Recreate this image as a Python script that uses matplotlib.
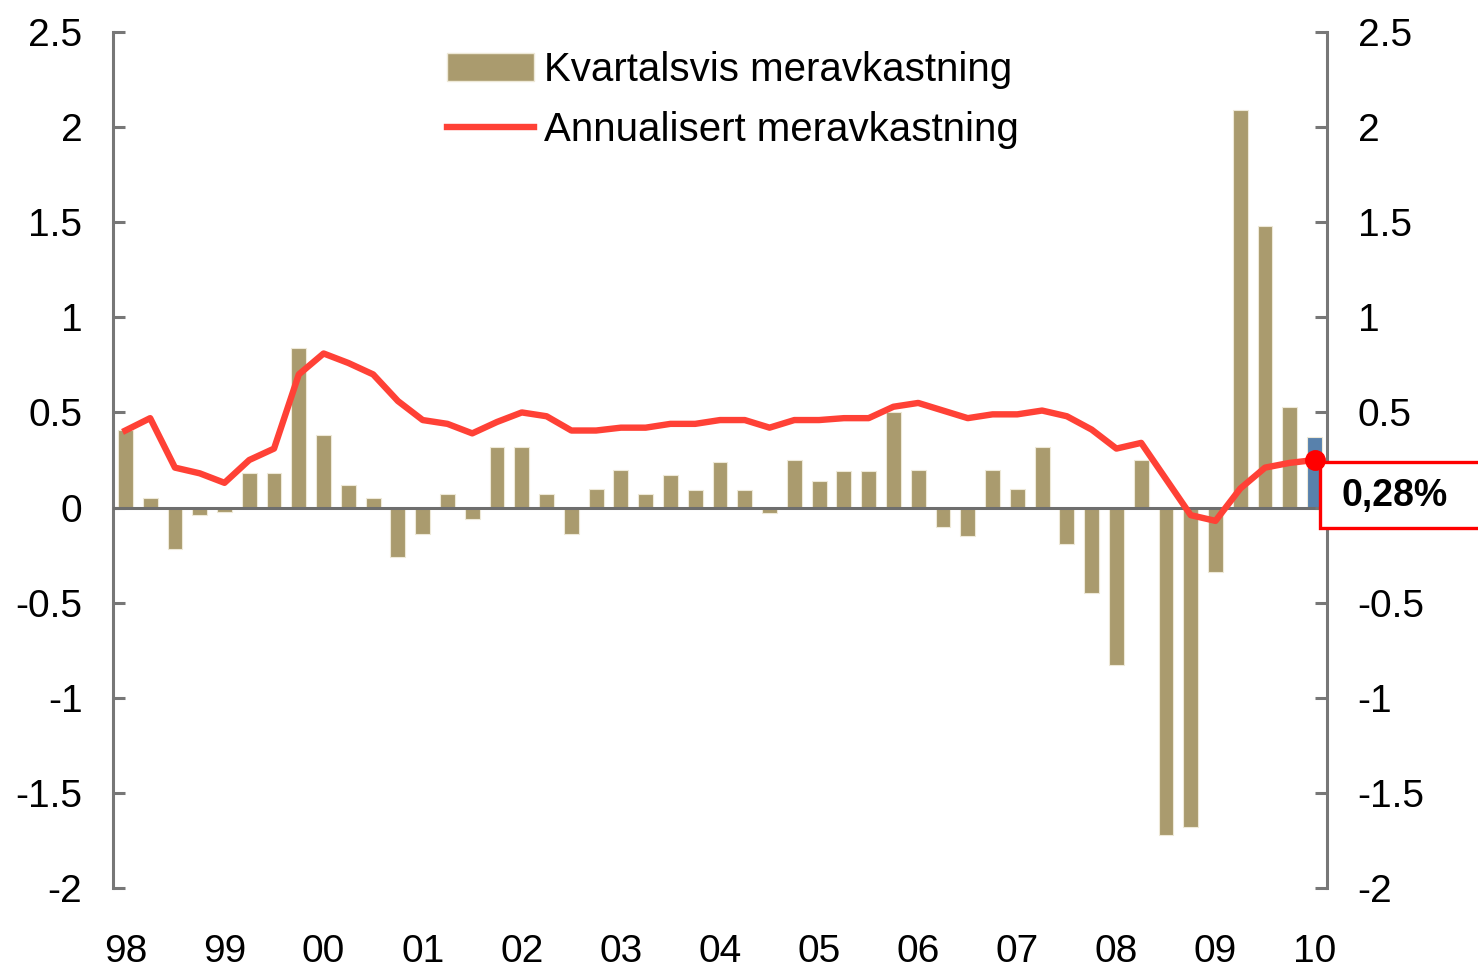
import numpy as np
import matplotlib
matplotlib.use("Agg")
import matplotlib.pyplot as plt
from matplotlib.patches import Patch, Rectangle
from matplotlib.lines import Line2D

plt.rcParams['font.family'] = ['Liberation Sans', 'DejaVu Sans']

# quarterly excess return, 98 Q1 .. 10 Q1
quarterly = [0.41, 0.05, -0.22, -0.04, -0.025, 0.18, 0.18, 0.84, 0.38, 0.12,
             0.05, -0.26, -0.14, 0.07, -0.06, 0.32, 0.32, 0.07, -0.14, 0.10,
             0.20, 0.07, 0.17, 0.09, 0.24, 0.09, -0.03, 0.25, 0.14, 0.19,
             0.19, 0.50, 0.20, -0.10, -0.15, 0.20, 0.10, 0.32, -0.19, -0.45,
             -0.83, 0.25, -1.72, -1.68, -0.34, 2.09, 1.48, 0.53, 0.37]
# annualised excess return
annual = [0.405, 0.47, 0.21, 0.18, 0.13, 0.25, 0.31, 0.70, 0.81, 0.76,
          0.70, 0.56, 0.46, 0.44, 0.39, 0.45, 0.50, 0.48, 0.405, 0.405,
          0.42, 0.42, 0.44, 0.44, 0.46, 0.46, 0.42, 0.46, 0.46, 0.47,
          0.47, 0.53, 0.55, 0.51, 0.47, 0.49, 0.49, 0.51, 0.48, 0.41,
          0.31, 0.34, 0.15, -0.04, -0.07, 0.10, 0.21, 0.235, 0.25]
years = ['98', '99', '00', '01', '02', '03', '04', '05', '06', '07', '08', '09', '10']
ylabels = ['-2', '-1.5', '-1', '-0.5', '0', '0.5', '1', '1.5', '2', '2.5']
last_label = '0,28%'

tan = '#AA9B6E'
blue = '#5881AC'
red = '#FF4136'
grey = '#777777'

x = np.arange(len(quarterly))
colors = [tan] * (len(quarterly) - 1) + [blue]

fig = plt.figure(figsize=(14.78, 9.68), dpi=100)
ax = fig.add_axes([113 / 1478, 80 / 968, 1214 / 1478, 856 / 968])

ax.bar(x, quarterly, width=0.6, color=colors, edgecolor='#EEE9D8', linewidth=0.8, zorder=2)
ax.axhline(0, color='#6E6E6E', lw=2.2, zorder=3)
ax.plot(x, annual, color=red, lw=4.6, zorder=4)

ax.set_xlim(-0.5, 48.5)
ax.set_ylim(-2, 2.5)
ax.set_yticks(np.arange(-2, 2.51, 0.5))
ax.set_yticklabels(ylabels)
ax.set_xticks(np.arange(0, len(quarterly), 4))
ax.set_xticklabels(years)
ax.tick_params(axis='x', length=0, pad=33, labelsize=28)
ax.tick_params(axis='y', direction='in', length=8.6, width=2.2, color=grey, pad=22, labelsize=28)
for s in ['top', 'bottom', 'right']:
    ax.spines[s].set_visible(False)
ax.spines['left'].set_color(grey)
ax.spines['left'].set_linewidth(2.2)

# right axis: the 0 label sits under the callout box, so leave it out
ax2 = ax.twinx()
ax2.set_ylim(-2, 2.5)
ax2.set_yticks(np.arange(-2, 2.51, 0.5))
ax2.set_yticklabels([t if t != '0' else '' for t in ylabels])
ax2.tick_params(axis='y', direction='in', length=8.6, width=2.2, color=grey, pad=22, labelsize=28)
for s in ['top', 'bottom', 'left']:
    ax2.spines[s].set_visible(False)
ax2.spines['right'].set_color(grey)
ax2.spines['right'].set_linewidth(2.2)

# callout for the latest value
xl, yl = x[-1], annual[-1]
box = Rectangle((xl + 0.23, -0.105), 20, 0.342, facecolor='white', edgecolor='#FF0000',
                lw=2.4, clip_on=False, zorder=5)
ax2.add_patch(box)
ax2.plot(xl, yl, 'o', color='#FF0000', ms=14, clip_on=False, zorder=6)
ax2.text(xl + 1.1, 0.06, last_label, fontsize=27, fontweight='bold', va='center', ha='left',
         zorder=7, clip_on=False)

handles = [Patch(facecolor=tan, edgecolor='#EEE9D8'), Line2D([0], [0], color=red, lw=4.6)]
ax.legend(handles, ['Kvartalsvis meravkastning', 'Annualisert meravkastning'],
          loc='upper left', bbox_to_anchor=(447 / 1478, 1 - 51 / 968), bbox_transform=fig.transFigure,
          frameon=False, fontsize=29, handlelength=2.15, handleheight=0.7, handletextpad=0.25,
          labelspacing=0.55, borderpad=0, borderaxespad=0)

fig.savefig('out.png', dpi=100)
